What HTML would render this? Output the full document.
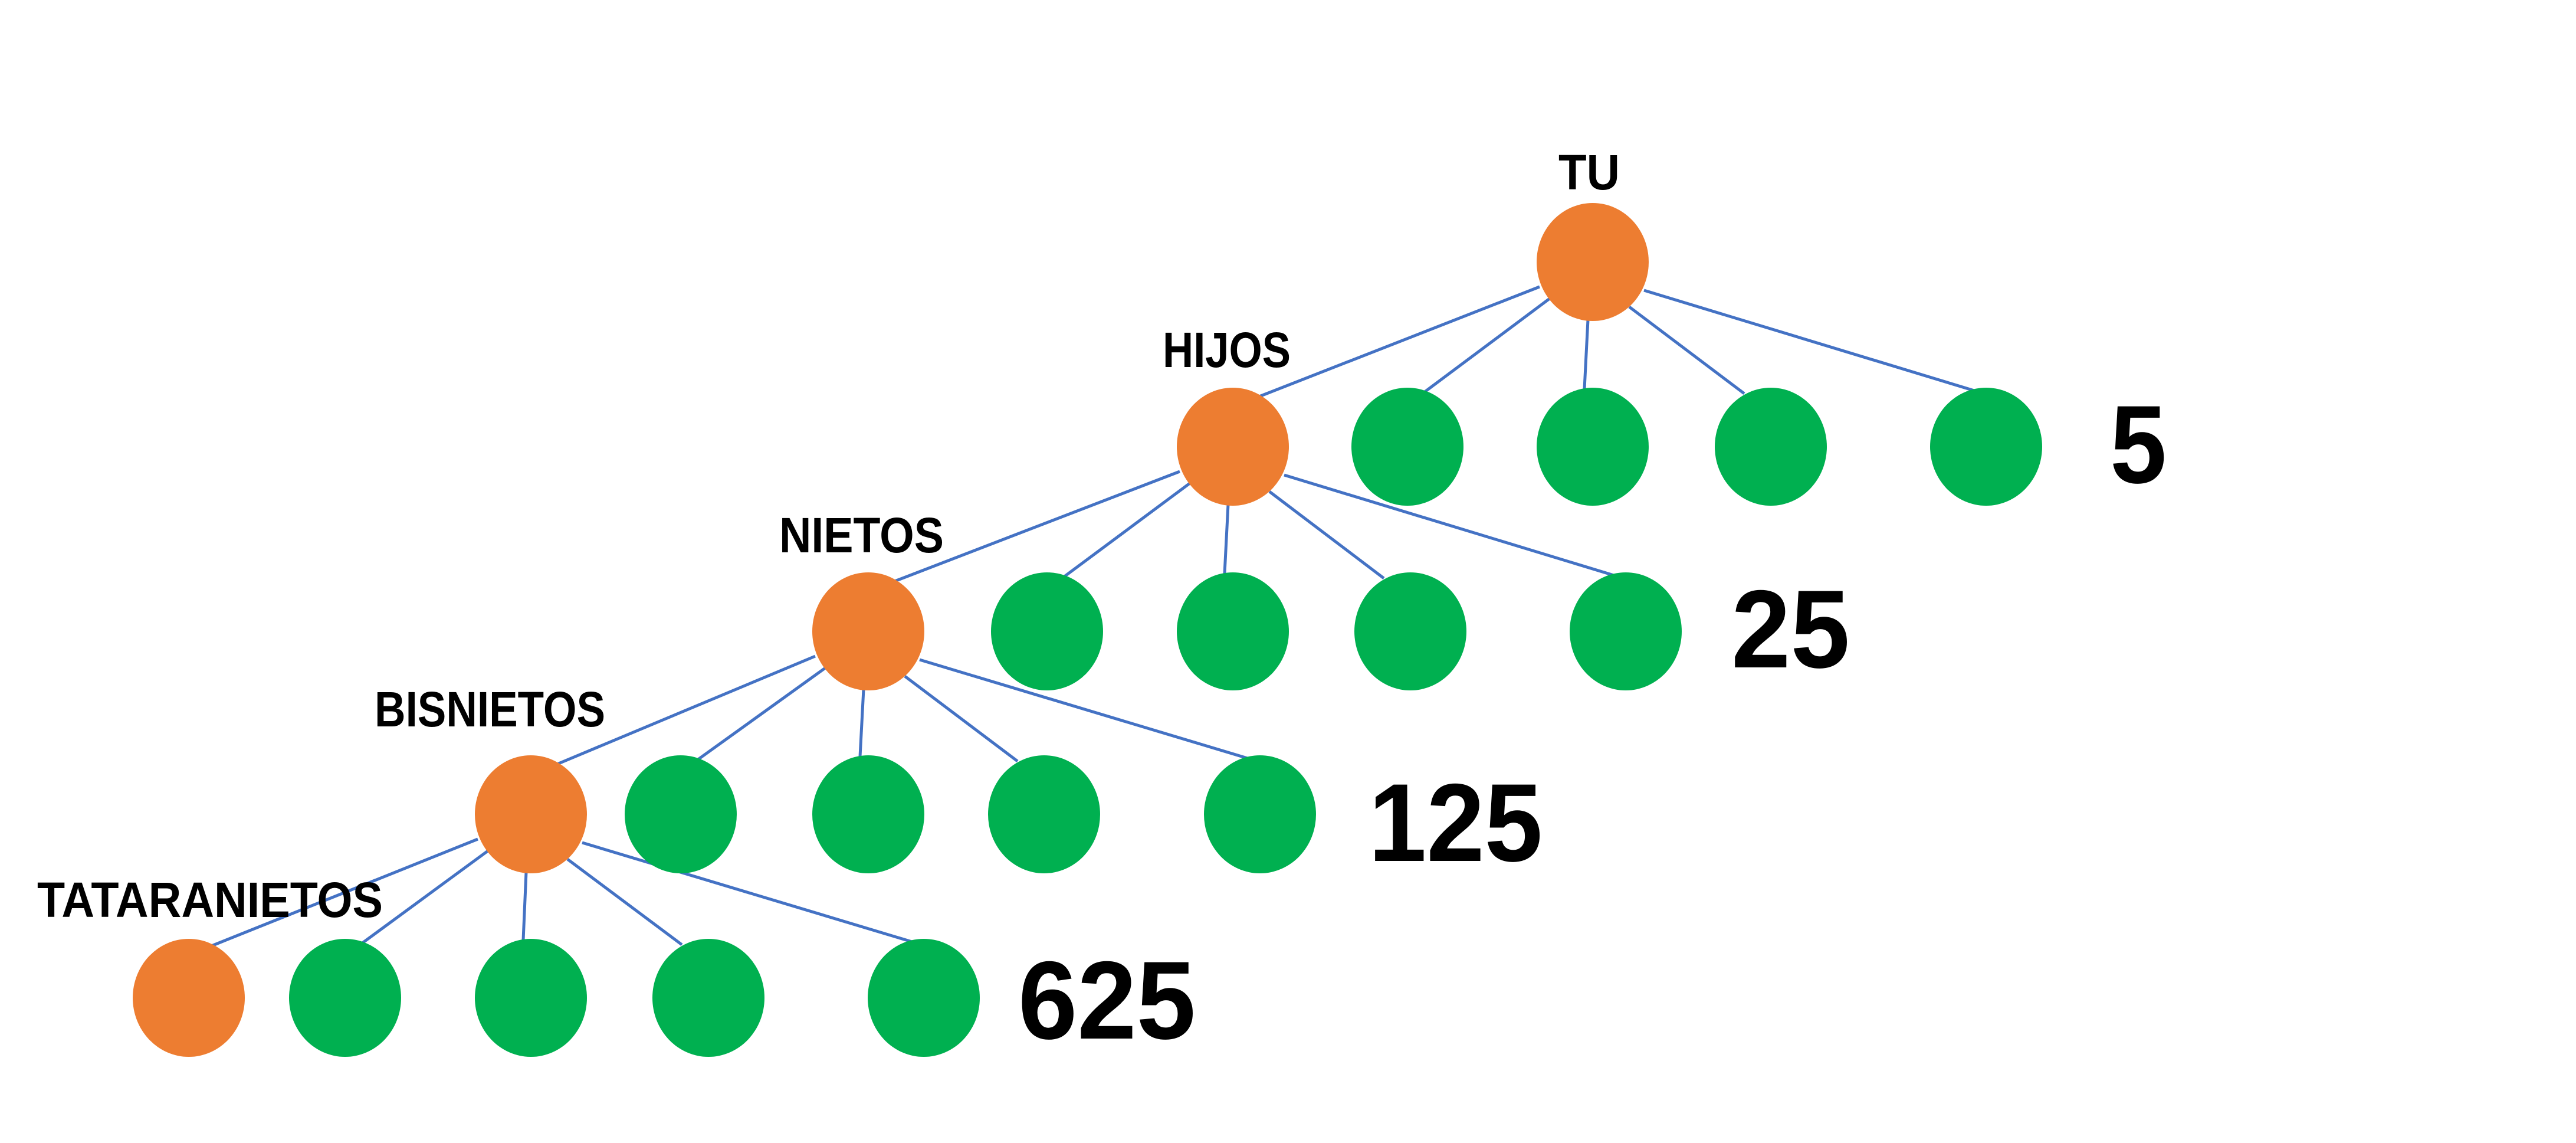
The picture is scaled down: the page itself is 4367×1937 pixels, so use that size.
<!DOCTYPE html>
<html><head><meta charset="utf-8"><style>
html,body{margin:0;padding:0;background:#fff;}
svg{display:block;}
text{font-family:"Liberation Sans Narrow","Liberation Sans",sans-serif;font-weight:bold;fill:#000;}
</style></head><body>
<svg width="4367" height="1937" viewBox="0 0 4367 1937" xmlns="http://www.w3.org/2000/svg">
<g stroke="#4472C4" stroke-width="5" fill="none">
<!-- parent TU (2700,444) -->
<line x1="2610" y1="486" x2="2132" y2="673"/>
<line x1="2627" y1="506" x2="2414" y2="665"/>
<line x1="2692" y1="542" x2="2686" y2="659"/>
<line x1="2762" y1="520" x2="2957" y2="667"/>
<line x1="2787" y1="492" x2="3347" y2="662"/>
<!-- parent HIJOS (2090,757) -->
<line x1="2000" y1="799" x2="1514" y2="986"/>
<line x1="2017" y1="819" x2="1803" y2="978"/>
<line x1="2082" y1="855" x2="2076" y2="972"/>
<line x1="2152" y1="833" x2="2346" y2="980"/>
<line x1="2177" y1="805" x2="2736" y2="975"/>
<!-- parent NIETOS (1472,1070) -->
<line x1="1382" y1="1112" x2="942" y2="1296"/>
<line x1="1399" y1="1132" x2="1182" y2="1288"/>
<line x1="1464" y1="1168" x2="1458" y2="1282"/>
<line x1="1534" y1="1146" x2="1725" y2="1290"/>
<line x1="1559" y1="1118" x2="2115" y2="1285"/>
<!-- parent BISNIETOS (900,1380) -->
<line x1="810" y1="1422" x2="356" y2="1604"/>
<line x1="827" y1="1442" x2="613" y2="1599"/>
<line x1="892" y1="1478" x2="887" y2="1593"/>
<line x1="962" y1="1456" x2="1156" y2="1601"/>
<line x1="987" y1="1428" x2="1546" y2="1596"/>
</g>
<g>
<ellipse cx="2700" cy="444" rx="95" ry="100" fill="#ED7D31"/>

<ellipse cx="2090" cy="757" rx="95" ry="100" fill="#ED7D31"/>
<ellipse cx="2386" cy="757" rx="95" ry="100" fill="#00B050"/>
<ellipse cx="2700" cy="757" rx="95" ry="100" fill="#00B050"/>
<ellipse cx="3002" cy="757" rx="95" ry="100" fill="#00B050"/>
<ellipse cx="3367" cy="757" rx="95" ry="100" fill="#00B050"/>

<ellipse cx="1472" cy="1070" rx="95" ry="100" fill="#ED7D31"/>
<ellipse cx="1775" cy="1070" rx="95" ry="100" fill="#00B050"/>
<ellipse cx="2090" cy="1070" rx="95" ry="100" fill="#00B050"/>
<ellipse cx="2391" cy="1070" rx="95" ry="100" fill="#00B050"/>
<ellipse cx="2756" cy="1070" rx="95" ry="100" fill="#00B050"/>

<ellipse cx="900" cy="1380" rx="95" ry="100" fill="#ED7D31"/>
<ellipse cx="1154" cy="1380" rx="95" ry="100" fill="#00B050"/>
<ellipse cx="1472" cy="1380" rx="95" ry="100" fill="#00B050"/>
<ellipse cx="1770" cy="1380" rx="95" ry="100" fill="#00B050"/>
<ellipse cx="2136" cy="1380" rx="95" ry="100" fill="#00B050"/>

<ellipse cx="320" cy="1691" rx="95" ry="100" fill="#ED7D31"/>
<ellipse cx="585" cy="1691" rx="95" ry="100" fill="#00B050"/>
<ellipse cx="900" cy="1691" rx="95" ry="100" fill="#00B050"/>
<ellipse cx="1201" cy="1691" rx="95" ry="100" fill="#00B050"/>
<ellipse cx="1566" cy="1691" rx="95" ry="100" fill="#00B050"/>
</g>
<g font-size="84">
<text x="2642" y="321" textLength="104" lengthAdjust="spacingAndGlyphs">TU</text>
<text x="1971" y="622" textLength="217" lengthAdjust="spacingAndGlyphs">HIJOS</text>
<text x="1321" y="936" textLength="279" lengthAdjust="spacingAndGlyphs">NIETOS</text>
<text x="635" y="1231" textLength="391" lengthAdjust="spacingAndGlyphs">BISNIETOS</text>
<text x="63" y="1554" textLength="586" lengthAdjust="spacingAndGlyphs">TATARANIETOS</text>
</g>
<g font-size="188">
<text x="3577" y="818" textLength="96" lengthAdjust="spacingAndGlyphs">5</text>
<text x="2935" y="1131" textLength="201" lengthAdjust="spacingAndGlyphs">25</text>
<text x="2320" y="1459" textLength="295" lengthAdjust="spacingAndGlyphs">125</text>
<text x="1726" y="1760" textLength="301" lengthAdjust="spacingAndGlyphs">625</text>
</g>
</svg>
</body></html>
